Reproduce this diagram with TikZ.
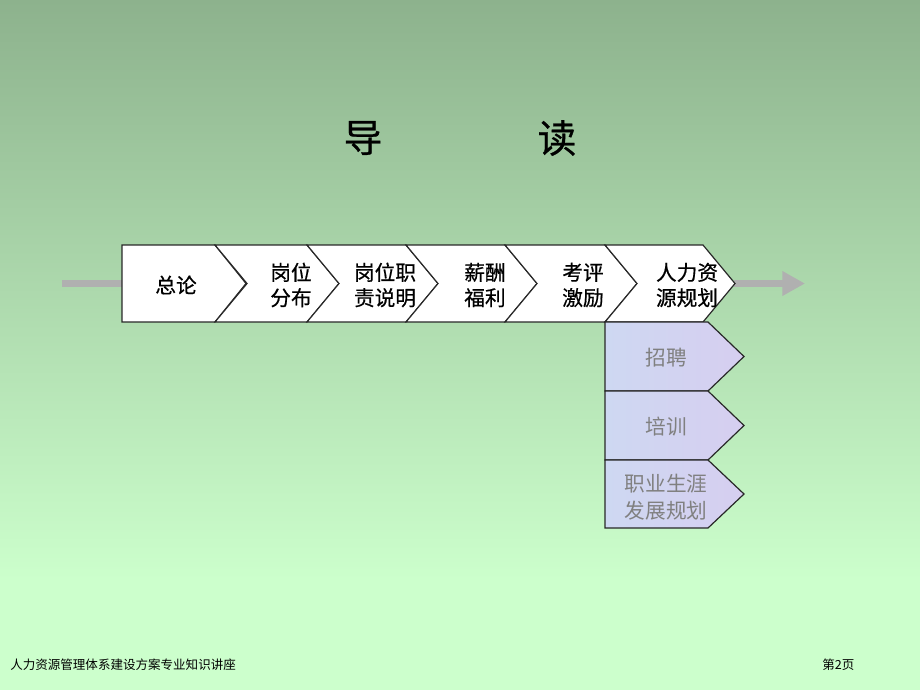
\documentclass[tikz,border=0pt]{standalone}
\usepackage{fontspec}
\setmainfont{Liberation Sans}
\newfontfamily\cjk{Noto Sans CJK SC}
\newfontfamily\cjkb[FakeBold=0.6]{Noto Sans CJK SC}
\usetikzlibrary{arrows.meta}
\definecolor{bgtop}{RGB}{141,178,141}
\definecolor{bgbot}{RGB}{204,255,204}
\definecolor{arrowgray}{RGB}{176,176,176}
\definecolor{subfill}{RGB}{206,216,242}
\definecolor{subfillb}{RGB}{214,206,240}
\definecolor{subtext}{RGB}{128,128,128}
\definecolor{edge}{RGB}{40,40,40}
\tikzset{
  chev/.style={draw=edge, line width=0.9pt, fill=white, line join=miter},
  subchev/.style={draw=edge, line width=0.9pt, left color=subfill, right color=subfillb, shading angle=90},
  lbl/.style={font=\cjkb\fontsize{15.5pt}{19pt}\selectfont, align=center, text=black, inner sep=0pt},
  sublbl/.style={font=\cjk\fontsize{15.5pt}{20pt}\selectfont, align=center, text=subtext, inner sep=0pt},
  flow/.style={draw=arrowgray, line width=5.25pt},
  foot/.style={font=\cjk\fontsize{9.4pt}{11pt}\selectfont, anchor=west, inner sep=0pt},
}
\begin{document}
\begin{tikzpicture}[x=0.75pt,y=-0.75pt]
\useasboundingbox (0,0) rectangle (920,690);
% background
\shade[top color=bgtop, bottom color=bgbot] (0,0) rectangle (920,580);
\fill[bgbot] (0,579) rectangle (920,690);
% title
\node[font=\cjkb\fontsize{29pt}{32pt}\selectfont, inner sep=0pt] (t1) at (363,138) {导};
\node[font=\cjkb\fontsize{29pt}{32pt}\selectfont, inner sep=0pt] (t2) at (557,138) {读};
% flow arrows
\coordinate (inA) at (62,283.5);
\coordinate (inB) at (124,283.5);
\coordinate (outA) at (734,283.5);
\coordinate (outB) at (805,283.5);
\draw[flow] (inA) -- (inB);
\draw[flow, -{Triangle[length=17pt,width=17.5pt]}] (outA) -- (outB);
% main chevrons
\draw[chev] (122,245) -- (215,245) -- (246,283.5) -- (215,322) -- (122,322) -- cycle;
\foreach \L/\R in {215/307, 307/406, 406/505, 505/605, 605/703}{
  \draw[chev] (\L,245) -- (\R,245) -- (\R+32,283.5) -- (\R,322) -- (\L,322) -- (\L+32,283.5) -- cycle;
}
% sub chevrons
\foreach \T/\B in {322/391, 391/460, 460/528}{
  \draw[subchev] (605,\T) -- (708,\T) -- (744,{(\T+\B)/2}) -- (708,\B) -- (605,\B) -- cycle;
}
% labels
\node[lbl] (c1) at (176,285) {总论};
\node[lbl] (c2) at (291,285) {岗位\\分布};
\node[lbl] (c3) at (385,285) {岗位职\\责说明};
\node[lbl] (c4) at (485,285) {薪酬\\福利};
\node[lbl] (c5) at (583,285) {考评\\激励};
\node[lbl] (c6) at (687,285) {人力资\\源规划};
\node[sublbl] (s1) at (666,358) {招聘};
\node[sublbl] (s2) at (666,427) {培训};
\node[sublbl] (s3) at (666,497) {职业生涯\\发展规划};
% footer
\node[foot] (f1) at (10,665) {人力资源管理体系建设方案专业知识讲座};
\node[foot] (f2) at (822,665) {第2页};
\end{tikzpicture}
\end{document}
